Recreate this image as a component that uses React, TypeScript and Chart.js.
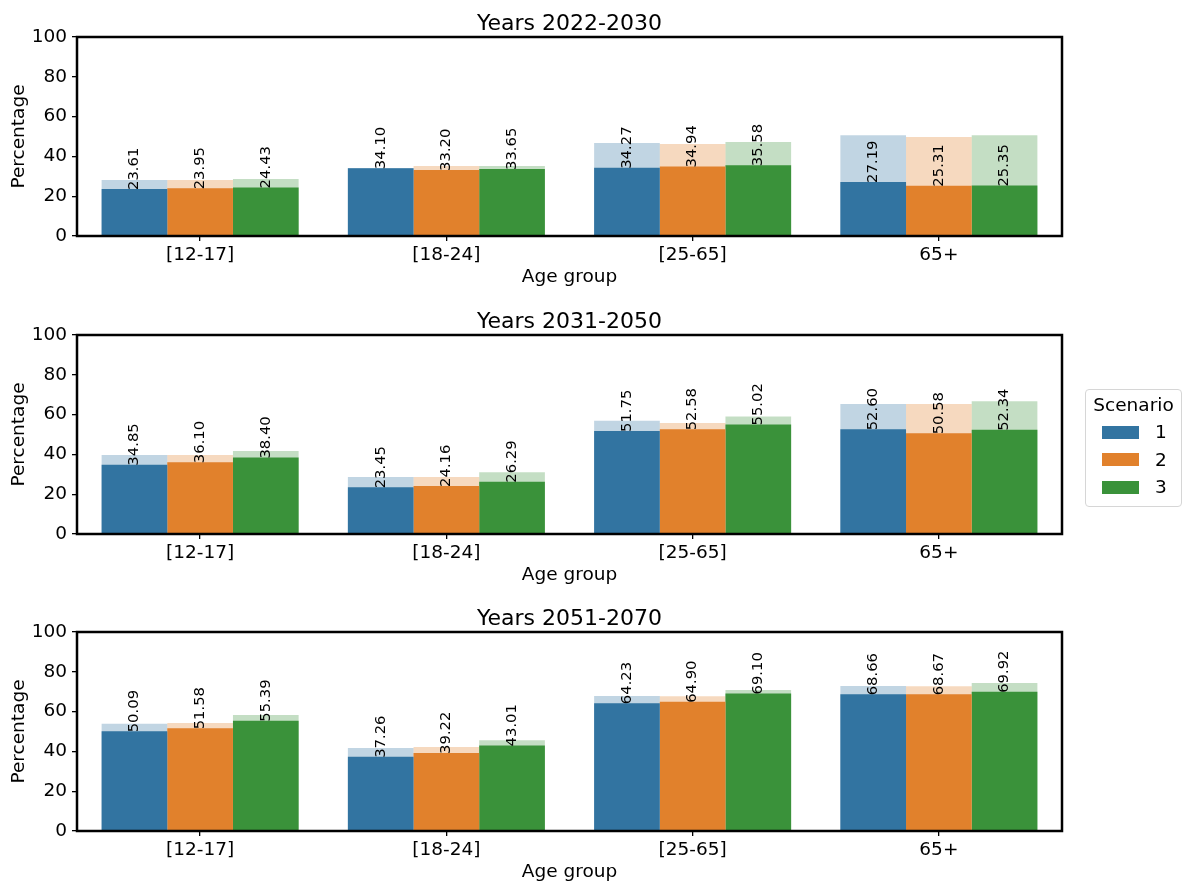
import React, { useEffect, useRef } from 'react';
import { Chart, registerables } from 'chart.js';

Chart.register(...registerables);

const FONT = '"DejaVu Sans", Verdana, sans-serif';

const ageGroups = ['[12-17]', '[18-24]', '[25-65]', '65+'];
const scenarios = ['1', '2', '3'];
const periodTitles = ['Years 2022-2030', 'Years 2031-2050', 'Years 2051-2070'];
const yTicks = [0, 20, 40, 60, 80, 100];

// Labelled (solid) percentages, one array per period and scenario
const p1s1 = [23.61, 34.1, 34.27, 27.19];
const p1s2 = [23.95, 33.2, 34.94, 25.31];
const p1s3 = [24.43, 33.65, 35.58, 25.35];
const p2s1 = [34.85, 23.45, 51.75, 52.6];
const p2s2 = [36.1, 24.16, 52.58, 50.58];
const p2s3 = [38.4, 26.29, 55.02, 52.34];
const p3s1 = [50.09, 37.26, 64.23, 68.66];
const p3s2 = [51.58, 39.22, 64.9, 68.67];
const p3s3 = [55.39, 43.01, 69.1, 69.92];

// Shaded upper bars drawn behind the solid ones
const p1s1Upper = [28.1, 34.2, 46.7, 50.6];
const p1s2Upper = [28.1, 35.2, 46.2, 49.7];
const p1s3Upper = [28.6, 35.2, 47.2, 50.6];
const p2s1Upper = [39.7, 28.6, 56.9, 65.3];
const p2s2Upper = [39.7, 28.6, 55.8, 65.3];
const p2s3Upper = [41.7, 31.0, 59.1, 66.7];
const p3s1Upper = [53.9, 41.7, 67.8, 72.9];
const p3s2Upper = [54.3, 42.2, 67.7, 72.7];
const p3s3Upper = [58.3, 45.6, 70.9, 74.4];

const solidColors = ['#3274a1', '#e1812c', '#3a923a'];
const shadedColors = ['rgba(50,116,161,0.3)', 'rgba(225,129,44,0.3)', 'rgba(58,146,58,0.3)'];

const panels = [
  { title: periodTitles[0], solid: [p1s1, p1s2, p1s3], upper: [p1s1Upper, p1s2Upper, p1s3Upper], top: 0 },
  { title: periodTitles[1], solid: [p2s1, p2s2, p2s3], upper: [p2s1Upper, p2s2Upper, p2s3Upper], top: 298 },
  { title: periodTitles[2], solid: [p3s1, p3s2, p3s3], upper: [p3s1Upper, p3s2Upper, p3s3Upper], top: 595 },
];

const CANVAS_W = 1184;
const CANVAS_H = 291;

function Panel({ title, solid, upper, top }: { title: string; solid: number[][]; upper: number[][]; top: number }) {
  const ref = useRef<HTMLCanvasElement | null>(null);

  useEffect(() => {
    if (!ref.current) return;

    const decor = {
      id: 'panelDecor',
      afterDatasetsDraw(chart: any) {
        const ctx = chart.ctx;
        ctx.save();
        ctx.fillStyle = '#000';
        ctx.font = `14.8px ${FONT}`;
        ctx.textAlign = 'left';
        ctx.textBaseline = 'middle';
        for (let d = 0; d < scenarios.length; d++) {
          const meta = chart.getDatasetMeta(d);
          meta.data.forEach((el: any, i: number) => {
            const v = chart.data.datasets[d].data[i] as number;
            ctx.save();
            ctx.translate(el.x, el.y + 1);
            ctx.rotate(-Math.PI / 2);
            ctx.fillText(v.toFixed(2), 0, 0);
            ctx.restore();
          });
        }
        ctx.restore();
      },
      afterDraw(chart: any) {
        const { ctx, chartArea } = chart;
        const { left, right, top: t, bottom } = chartArea;
        ctx.save();
        ctx.strokeStyle = '#000';
        ctx.lineWidth = 2.5;
        ctx.strokeRect(left, t, right - left, bottom - t);
        ctx.fillStyle = '#000';
        ctx.font = `22px ${FONT}`;
        ctx.textAlign = 'center';
        ctx.textBaseline = 'alphabetic';
        ctx.fillText(title, (left + right) / 2, t - 7);
        ctx.restore();
      },
    };

    const datasets: any[] = [];
    scenarios.forEach((s, k) => {
      datasets.push({
        label: s,
        data: solid[k],
        backgroundColor: solidColors[k],
        borderWidth: 0,
        stack: 's' + s,
        order: 1,
      });
    });
    scenarios.forEach((s, k) => {
      datasets.push({
        label: s + ' upper',
        data: upper[k],
        backgroundColor: shadedColors[k],
        borderWidth: 0,
        stack: 's' + s,
        order: 2,
      });
    });

    const tickFont = { family: FONT, size: 18.5 };

    const chart = new Chart(ref.current, {
      type: 'bar',
      data: { labels: ageGroups, datasets },
      plugins: [decor],
      options: {
        animation: false,
        responsive: false,
        devicePixelRatio: 1,
        layout: { padding: { top: 37, right: 122, left: 0, bottom: 0 } },
        datasets: { bar: { categoryPercentage: 0.8, barPercentage: 1.0 } },
        plugins: {
          legend: { display: false },
          tooltip: { enabled: false },
          title: { display: false },
        },
        scales: {
          x: {
            type: 'category',
            stacked: true,
            offset: true,
            grid: { display: true, offset: false, drawOnChartArea: false, drawTicks: true, tickLength: 5, color: '#000', lineWidth: 1.3 },
            border: { display: false },
            ticks: { color: '#000', font: tickFont, padding: 3, maxRotation: 0, autoSkip: false },
            title: { display: true, text: 'Age group', color: '#000', font: tickFont, padding: { top: 0, bottom: 2.6 } },
            afterFit: (s: any) => { s.height = 55; },
          },
          y: {
            type: 'linear',
            min: 0,
            max: 100,
            stacked: false,
            afterBuildTicks: (s: any) => { s.ticks = yTicks.map((v) => ({ value: v })); },
            grid: { display: true, drawOnChartArea: false, drawTicks: true, tickLength: 5, color: '#000', lineWidth: 1.3 },
            border: { display: false },
            ticks: { color: '#000', font: tickFont, padding: 5 },
            title: { display: true, text: 'Percentage', color: '#000', font: tickFont, padding: { top: 8.4, bottom: 0 } },
            afterFit: (s: any) => { s.width = 77; },
          },
        },
      } as any,
    });

    return () => chart.destroy();
  }, [title, solid, upper]);

  return (
    <canvas
      ref={ref}
      width={CANVAS_W}
      height={CANVAS_H}
      style={{ position: 'absolute', left: 0, top, width: CANVAS_W, height: CANVAS_H }}
    />
  );
}

function Legend() {
  const rowCenters = [432, 459.5, 487];
  return (
    <div
      style={{
        position: 'absolute',
        left: 1085,
        top: 389,
        width: 97,
        height: 118,
        boxSizing: 'border-box',
        border: '1px solid #d6d6d6',
        borderRadius: 4,
        background: '#fff',
        fontFamily: FONT,
        fontSize: 18.5,
        color: '#000',
      }}
    >
      <div style={{ position: 'absolute', left: 0, width: 95, top: 394 - 389 - 1, lineHeight: '22px', textAlign: 'center' }}>
        Scenario
      </div>
      {scenarios.map((s, k) => (
        <React.Fragment key={s}>
          <div
            style={{
              position: 'absolute',
              left: 1102 - 1085 - 1,
              top: rowCenters[k] - 6.5 - 389 - 1,
              width: 37,
              height: 13,
              background: solidColors[k],
            }}
          />
          <div
            style={{
              position: 'absolute',
              left: 1155 - 1085 - 1,
              top: rowCenters[k] - 11 - 389 - 1,
              lineHeight: '22px',
            }}
          >
            {s}
          </div>
        </React.Fragment>
      ))}
    </div>
  );
}

export default function App() {
  return (
    <div style={{ position: 'fixed', left: 0, top: 0, width: 1184, height: 886, background: '#fff', overflow: 'hidden' }}>
      {panels.map((p) => (
        <Panel key={p.title} title={p.title} solid={p.solid} upper={p.upper} top={p.top} />
      ))}
      <Legend />
    </div>
  );
}
